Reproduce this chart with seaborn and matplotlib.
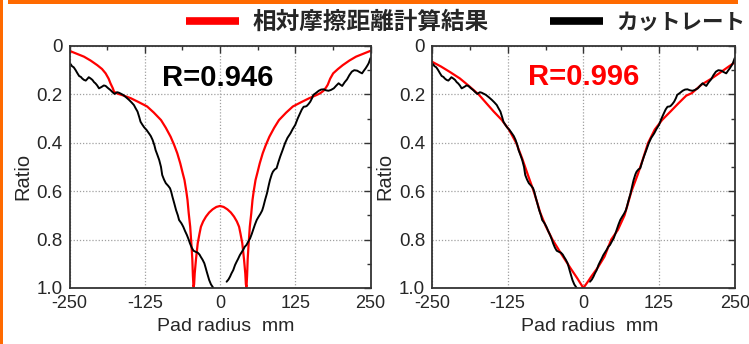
import numpy as np
import pandas as pd
import matplotlib
matplotlib.use("Agg")
import matplotlib.pyplot as plt
from matplotlib.lines import Line2D
from matplotlib.patches import Rectangle
import seaborn as sns

# ---------------- data ----------------
# measured cut rate (same in both panels), two segments around the centre
cut_left_x = [-250, -248, -246, -243, -240, -237, -234, -231, -229, -226, -223, -220, -218, -215, -212,
              -209, -207, -204, -201, -198, -196, -193, -190, -186, -182, -178, -175, -171, -168, -164,
              -161, -156, -151, -147, -143, -140, -137, -134, -132, -129, -126, -122, -118, -115, -112,
              -109, -107, -104, -101, -98, -96, -93, -90, -86, -83, -81, -79, -76, -73, -70, -68, -64,
              -61, -58, -55, -52, -50, -47, -44, -40, -37, -34, -32, -29, -26, -24, -22, -20, -18, -15, -11]
cut_left_y = [0.080, 0.075, 0.083, 0.088, 0.099, 0.112, 0.124, 0.128, 0.134, 0.140, 0.143, 0.135, 0.129, 0.134, 0.140,
              0.150, 0.154, 0.163, 0.175, 0.171, 0.168, 0.163, 0.165, 0.174, 0.182, 0.192, 0.198, 0.191, 0.193, 0.198,
              0.202, 0.212, 0.223, 0.233, 0.244, 0.258, 0.271, 0.295, 0.313, 0.325, 0.336, 0.347, 0.361, 0.372, 0.388,
              0.410, 0.430, 0.450, 0.471, 0.500, 0.533, 0.552, 0.567, 0.578, 0.588, 0.603, 0.623, 0.650, 0.678, 0.700, 0.719, 0.733,
              0.747, 0.765, 0.781, 0.800, 0.815, 0.833, 0.846, 0.851, 0.854, 0.862, 0.871, 0.883, 0.898, 0.915, 0.933, 0.950, 0.967, 0.985, 1.000]
cut_right_x = [11, 14, 16.7, 19, 22, 25, 27.7, 30, 33, 36, 39, 41, 44, 47, 50, 53, 55, 58, 61, 64, 67, 70, 72, 75, 78,
               81, 83, 86, 88, 91, 94, 97, 100, 104, 108, 112, 117, 121, 125, 129, 133, 136, 139, 142, 144, 147, 150,
               153, 155, 159, 164, 168, 172, 176, 180, 184, 189, 193, 197, 200, 203, 207, 211, 215, 219, 223, 228, 232,
               236, 239, 242, 245, 247, 250]
cut_right_y = [0.974, 0.965, 0.953, 0.940, 0.926, 0.905, 0.891, 0.880, 0.864, 0.852, 0.840, 0.830, 0.822, 0.808, 0.795,
               0.775, 0.760, 0.738, 0.719, 0.706, 0.694, 0.680, 0.664, 0.635, 0.609, 0.575, 0.554, 0.530, 0.519, 0.510,
               0.505, 0.480, 0.457, 0.430, 0.402, 0.380, 0.361, 0.342, 0.326, 0.300, 0.278, 0.262, 0.251, 0.250, 0.248,
               0.240, 0.230, 0.215, 0.202, 0.195, 0.185, 0.180, 0.179, 0.183, 0.185, 0.182, 0.175, 0.164, 0.154, 0.160,
               0.165, 0.150, 0.138, 0.120, 0.106, 0.100, 0.102, 0.108, 0.113, 0.102, 0.092, 0.080, 0.071, 0.050]

# relative friction distance, left panel
rel1_x = [-250, -240, -226, -215, -204, -196, -190, -185, -182, -178, -176, -170, -160, -148, -135, -121, -110, -98,
          -90, -82, -76, -71, -66, -62, -59, -56, -54, -52, -49.5, -47.5, -46, -45, -44, -43, -42, -40, -37, -34,
          -31.7, -28, -23.3, -18, -12.3, -6, 0,
          6, 12.3, 18, 23.3, 28, 31.7, 34, 37, 40, 42, 43, 44, 45, 46, 47.5, 49.5, 52, 54, 56, 59, 62, 66, 71, 76,
          82, 90, 98, 110, 121, 135, 148, 160, 166, 172, 176, 179, 183, 188, 196, 204, 215, 226, 240, 250]
rel1_y = [0.020, 0.030, 0.044, 0.060, 0.079, 0.095, 0.113, 0.135, 0.154, 0.175, 0.189, 0.197, 0.205, 0.216, 0.232,
          0.250, 0.275, 0.306, 0.338, 0.375, 0.410, 0.443, 0.485, 0.525, 0.554, 0.600, 0.636, 0.690, 0.747, 0.820,
          0.880, 0.950, 0.995, 0.985, 0.940, 0.884, 0.815, 0.775, 0.747, 0.725, 0.705, 0.688, 0.675, 0.665, 0.661,
          0.665, 0.675, 0.688, 0.705, 0.725, 0.747, 0.775, 0.815, 0.884, 0.940, 0.985, 0.995, 0.950, 0.880, 0.820,
          0.747, 0.690, 0.636, 0.600, 0.554, 0.525, 0.485, 0.443, 0.410, 0.375, 0.338, 0.306, 0.275, 0.250, 0.232,
          0.216, 0.203, 0.196, 0.185, 0.172, 0.160, 0.135, 0.113, 0.095, 0.079, 0.060, 0.044, 0.030, 0.020]

# relative friction distance, right panel
rel2_x = [-250, -235, -220, -204, -190, -173, -160, -148, -135, -123, -111, -101, -92, -82, -71, -62, -51, -37,
          -21, -10, 0, 8, 13, 24, 35, 46, 57, 68, 79.5, 90, 98, 107, 118, 130, 145, 157, 170, 179, 195, 212, 226,
          240, 250]
rel2_y = [0.065, 0.085, 0.108, 0.134, 0.163, 0.200, 0.237, 0.271, 0.305, 0.345, 0.400, 0.465, 0.530, 0.600, 0.690,
          0.745, 0.800, 0.857, 0.919, 0.960, 1.000, 0.972, 0.953, 0.915, 0.870, 0.800, 0.760, 0.700, 0.600, 0.530,
          0.470, 0.400, 0.345, 0.306, 0.268, 0.237, 0.205, 0.195, 0.160, 0.134, 0.110, 0.085, 0.068]

x_ticks = [-250, -125, 0, 125, 250]
x_ticklabels = ["-250", "-125", "0", "125", "250"]
y_ticks = [0, 0.2, 0.4, 0.6, 0.8, 1.0]
y_ticklabels = ["0", "0.2", "0.4", "0.6", "0.8", "1.0"]
r_labels = ["R=0.946", "R=0.996"]
legend_labels = ["相対摩擦距離計算結果", "カットレート"]

# ---------------- style ----------------
sns.set_style("white")
plt.rcParams["font.family"] = ["Liberation Sans", "DejaVu Sans"]

RED = "#ff0000"
SPINE = "#333333"

cut_df = pd.DataFrame({
    "x": cut_left_x + cut_right_x,
    "y": cut_left_y + cut_right_y,
    "seg": ["L"] * len(cut_left_x) + ["R"] * len(cut_right_x),
})
rel_dfs = [pd.DataFrame({"x": rel1_x, "y": rel1_y}), pd.DataFrame({"x": rel2_x, "y": rel2_y})]

fig = plt.figure(figsize=(7.49, 3.44), dpi=100)
W, H = 749, 344
ax1 = fig.add_axes([69.5 / W, 1 - 288 / H, 301 / W, 242 / H])
ax2 = fig.add_axes([432 / W, 1 - 288 / H, 302.7 / W, 242 / H])

r_pos = [(0.492, 0.868), (0.500, 0.873)]
r_colors = ["black", RED]

for i, ax in enumerate([ax1, ax2]):
    sns.lineplot(data=rel_dfs[i], x="x", y="y", ax=ax, color=RED, lw=1.6, sort=False, estimator=None)
    sns.lineplot(data=cut_df, x="x", y="y", units="seg", ax=ax, color="black", lw=1.4, sort=False,
                 estimator=None)
    ax.set_xlim(-250, 250)
    ax.set_ylim(1.0, 0)
    ax.set_xticks(x_ticks)
    ax.set_xticklabels(x_ticklabels, fontsize=13)
    ax.set_xticks([-187.5, -62.5, 62.5, 187.5], minor=True)
    ax.set_yticks(y_ticks)
    ax.set_yticklabels(y_ticklabels, fontsize=13.5)
    ax.set_yticks([0.1, 0.3, 0.5, 0.7, 0.9], minor=True)
    ax.tick_params(which="both", direction="in", top=True, right=True, color=SPINE, width=1.0)
    ax.tick_params(which="major", length=5, pad=5)
    ax.tick_params(which="minor", length=3)
    ax.grid(True, which="major", linestyle=(0, (1, 1.5)), color="#a0a0a0", lw=0.9)
    for s in ax.spines.values():
        s.set_color(SPINE)
        s.set_linewidth(1.3)
        s.set_visible(True)
    ax.set_xlabel("Pad radius  mm", fontsize=14)
    ax.set_ylabel("Ratio", fontsize=14.5)
    ax.xaxis.set_label_coords(0.52, -0.122)
    ax.yaxis.set_label_coords(-0.125, 0.46)
    ax.text(r_pos[i][0], r_pos[i][1], r_labels[i], transform=ax.transAxes, ha="center", va="center",
            fontsize=21, fontweight="bold", color=r_colors[i])

handles = [Line2D([], [], color=RED, lw=5.5, solid_capstyle="butt"),
           Line2D([], [], color="black", lw=5.5, solid_capstyle="butt")]
leg = fig.legend(handles, legend_labels, loc="center left", bbox_to_anchor=(186 / W, 1 - 22 / H),
                 ncol=2, frameon=False, handlelength=2.25, handletextpad=0.55, columnspacing=2.6,
                 borderpad=0, borderaxespad=0,
                 prop={"family": ["Noto Sans CJK JP", "DejaVu Sans"], "weight": "bold", "size": 17})
leg.get_texts()[1].set_fontsize(15.5)

ORANGE = "#ff6a00"
fig.patches.append(Rectangle((0, 0), 3 / W, 1, transform=fig.transFigure, color=ORANGE, lw=0))
fig.patches.append(Rectangle((8.3 / W, 1 - 4.3 / H), (738 - 8.3) / W, 4.3 / H, transform=fig.transFigure,
                             color=ORANGE, lw=0))

fig.savefig("out.png", dpi=100)
